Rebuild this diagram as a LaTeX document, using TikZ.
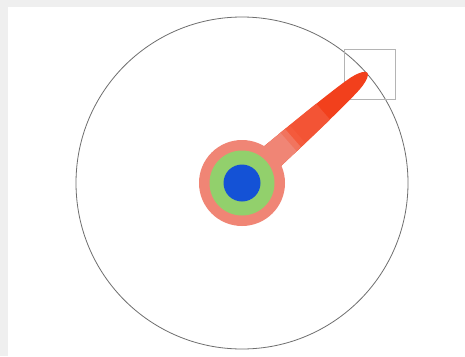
\documentclass[tikz,border=0pt]{standalone}
\usetikzlibrary{shapes.geometric}
\definecolor{bgray}{HTML}{EFEFEF}
\definecolor{ringline}{HTML}{6E6E6E}
\definecolor{boxline}{HTML}{B4B4B4}
\definecolor{salmon}{HTML}{F08575}
\definecolor{ringgreen}{HTML}{92D06C}
\definecolor{hubblue}{HTML}{1452D6}
\definecolor{needlered}{HTML}{F2401C}
\definecolor{needlemid}{HTML}{F45A3C}
\begin{document}
\begin{tikzpicture}[x=1pt,y=-1pt,
  dial/.style={draw=ringline,line width=0.8pt},
  markbox/.style={draw=boxline,line width=0.7pt}]
\useasboundingbox (0,0) rectangle (465,356);
\fill[bgray] (0,0) rectangle (465,356);
\fill[white] (8,7) rectangle (465,356);
% dial
\draw[dial] (242,183) circle[radius=166];
% marker box
\draw[markbox] (344,49) rectangle (395,99);
% needle
\begin{scope}[shift={(242,183)},rotate=41.35]
  \fill[needlered] (35,-13.2) -- (65,-12.2) .. controls (110,-10.5) and (140,-9) .. (152,-7.2)
     .. controls (162,-5.5) and (167,-2.5) .. (167,0)
     .. controls (167,2.5) and (162,5.5) .. (152,7.2)
     .. controls (140,9) and (110,10.5) .. (65,12.2) -- (35,13.2) -- cycle;
  \fill[needlemid,opacity=0.8] (72,-12) -- (108,-10.6) -- (108,10.6) -- (72,12) -- cycle;
  \fill[needlemid] (62,-12.3) -- (74,-11.9) -- (74,11.9) -- (62,12.3) -- cycle;
  \fill[salmon!60!needlemid] (60,-12.35) -- (68,-12.1) -- (68,12.1) -- (60,12.35) -- cycle;
  \fill[salmon] (30,-13.3) -- (62,-12.3) -- (62,12.3) -- (30,13.3) -- cycle;
\end{scope}
% hub
\fill[salmon] (242,183) circle[radius=43];
\fill[ringgreen] (242,183) circle[radius=32.5];
\fill[hubblue] (242,183) circle[radius=18.5];
\end{tikzpicture}
\end{document}
